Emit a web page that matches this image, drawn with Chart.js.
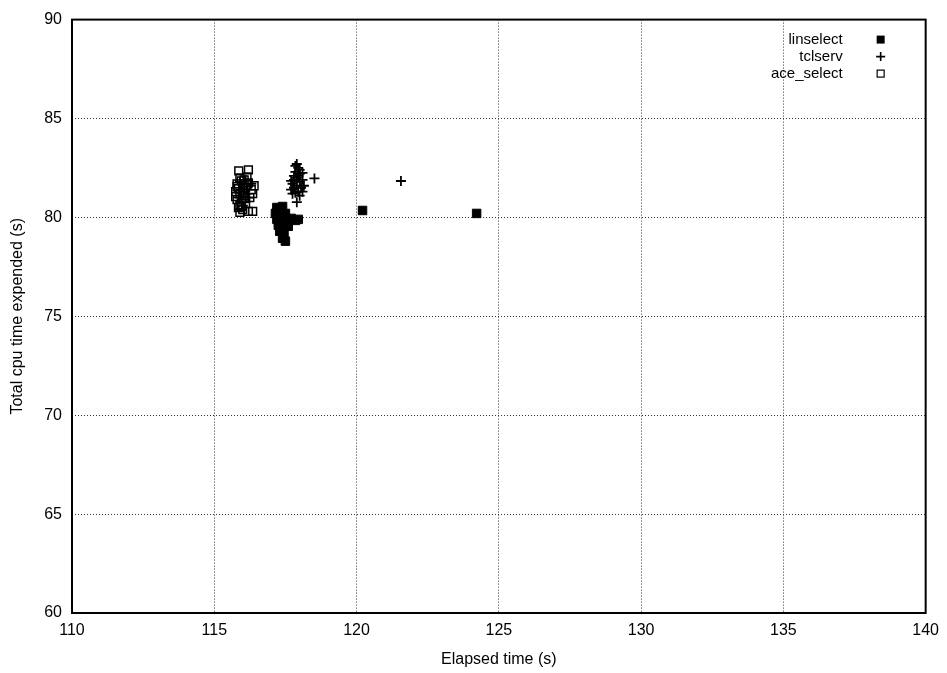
<!DOCTYPE html>
<html>
<head>
<meta charset="utf-8">
<script src="https://cdn.jsdelivr.net/npm/chart.js@4/dist/chart.umd.min.js"></script>
<style>
  body { margin: 0; background: #fff; }
  #wrap { width: 947px; height: 673px; }
</style>
</head>
<body>
<div id="wrap"><canvas id="myChart" width="947" height="673"></canvas></div>
<script>
const seriesNames = ["linselect", "tclserv", "ace_select"];

// linselect (filled squares)
const linX = [117.2, 117.4, 117.15, 117.35, 117.5, 117.2, 117.4, 117.55, 117.7, 117.85, 117.95, 117.25, 117.45, 117.6, 117.3, 117.45, 117.4, 117.5, 120.21, 124.22];
const linY = [80.5, 80.55, 80.2, 80.3, 80.2, 79.9, 80.0, 79.9, 79.95, 79.85, 79.9, 79.6, 79.6, 79.55, 79.3, 79.2, 78.95, 78.8, 80.35, 80.2];

// tclserv (plus signs)
const tclX = [117.9, 117.95, 117.85, 118.0, 117.9, 117.8, 118.0, 117.9, 117.8, 118.05, 117.95, 117.85, 118.1, 117.75, 118.1, 117.95, 117.85, 118.0, 117.8,
  117.7, 118.15, 117.75, 118.1, 117.7, 118.0, 118.52, 117.9, 121.56,
  115.9, 116.05, 116.2, 115.85, 116.0, 116.3, 116.1, 115.95];
const tclY = [82.7, 82.5, 82.3, 82.2, 82.0, 81.9, 81.8, 81.6, 81.5, 81.5, 81.3, 81.25, 81.3, 81.7, 81.9, 82.1, 82.6, 82.4, 82.1,
  81.4, 81.6, 81.2, 82.25, 81.85, 81.1, 81.97, 80.77, 81.84,
  81.8, 81.4, 81.0, 81.0, 80.6, 81.7, 81.9, 81.25];

// ace_select (open squares)
const aceX = [115.86, 116.2, 115.9, 116.05, 115.8, 116.0, 116.1, 115.75, 115.9, 116.05, 116.3, 116.4, 116.35, 115.8, 115.95, 116.1, 115.85, 116.0, 116.2, 115.9, 116.35,
  115.95, 116.15, 115.85, 116.0, 116.25, 115.75, 116.1, 115.9, 116.2, 115.8, 116.05, 115.95];
const aceY = [82.35, 82.4, 82.0, 81.9, 81.7, 81.6, 81.5, 81.3, 81.2, 81.1, 81.4, 81.6, 81.2, 80.9, 80.8, 80.7, 80.5, 80.4, 80.3, 80.25, 80.3,
  81.85, 82.05, 81.45, 81.35, 81.0, 81.05, 80.95, 80.6, 81.75, 81.55, 81.25, 80.55];

const xTicks = [110, 115, 120, 125, 130, 135, 140];
const yTicks = [60, 65, 70, 75, 80, 85, 90];

const FONT = "'Liberation Sans', Arial, Helvetica, sans-serif";

function pts(xs, ys) {
  return xs.map((x, i) => ({ x: x, y: ys[i] }));
}

// legend in the top right corner, text first then the marker (gnuplot style)
const gnuLegend = {
  id: "gnuLegend",
  afterDraw(chart) {
    const ctx = chart.ctx;
    const area = chart.chartArea;
    const textRight = area.right - 83;
    const markX = area.right - 45;
    ctx.save();
    // frame around the plot
    ctx.lineWidth = 2;
    ctx.strokeStyle = "#000";
    ctx.strokeRect(area.left, area.top, area.right - area.left, area.bottom - area.top);
    ctx.font = "15px " + FONT;
    ctx.textAlign = "right";
    ctx.textBaseline = "middle";
    chart.data.datasets.forEach((ds, i) => {
      const y = area.top + 20 + i * 17;
      ctx.fillStyle = "#000";
      ctx.fillText(ds.label, textRight, y);
      ctx.strokeStyle = "#000";
      ctx.lineWidth = 1.6;
      if (ds.pointStyle === "cross") {
        ctx.beginPath();
        ctx.moveTo(markX - 4.5, y);
        ctx.lineTo(markX + 4.5, y);
        ctx.moveTo(markX, y - 4.5);
        ctx.lineTo(markX, y + 4.5);
        ctx.stroke();
      } else if (ds.filled) {
        ctx.fillRect(markX - 4, y - 4, 8, 8);
      } else {
        ctx.lineWidth = 1.2;
        ctx.strokeRect(markX - 3.5, y - 3.5, 7, 7);
      }
    });
    ctx.restore();
  }
};

const ctx = document.getElementById("myChart").getContext("2d");

new Chart(ctx, {
  type: "scatter",
  plugins: [gnuLegend],
  data: {
    datasets: [
      {
        label: seriesNames[0],
        data: pts(linX, linY),
        pointStyle: "rect",
        pointRadius: 6,
        backgroundColor: "#000",
        borderColor: "#000",
        borderWidth: 1,
        filled: true
      },
      {
        label: seriesNames[1],
        data: pts(tclX, tclY),
        pointStyle: "cross",
        pointRadius: 5,
        backgroundColor: "#000",
        borderColor: "#000",
        borderWidth: 1.8
      },
      {
        label: seriesNames[2],
        data: pts(aceX, aceY),
        pointStyle: "rect",
        pointRadius: 5.5,
        backgroundColor: "rgba(0,0,0,0)",
        borderColor: "#000",
        borderWidth: 1.5
      }
    ]
  },
  options: {
    responsive: false,
    animation: false,
    layout: { padding: { top: 15, right: 19, left: 0, bottom: 0 } },
    plugins: {
      legend: { display: false },
      tooltip: { enabled: false }
    },
    scales: {
      x: {
        type: "linear",
        min: 110,
        max: 140,
        afterBuildTicks: (scale) => { scale.ticks = xTicks.map(v => ({ value: v })); },
        afterFit: (scale) => { scale.height = 60; },
        ticks: { color: "#000", font: { family: FONT, size: 16 }, padding: 8 },
        grid: { color: "#333", lineWidth: 1, drawTicks: false },
        border: { display: false, dash: [1, 2] },
        title: { display: true, text: "Elapsed time (s)", color: "#000", font: { family: FONT, size: 16 }, padding: { top: 4, bottom: 4 } }
      },
      y: {
        type: "linear",
        min: 60,
        max: 90,
        afterBuildTicks: (scale) => { scale.ticks = yTicks.map(v => ({ value: v })); },
        afterFit: (scale) => { scale.width = 72; },
        ticks: { color: "#000", font: { family: FONT, size: 16 }, padding: 10 },
        grid: { color: "#333", lineWidth: 1, drawTicks: false },
        border: { display: false, dash: [1, 2] },
        title: { display: true, text: "Total cpu time expended (s)", color: "#000", font: { family: FONT, size: 16 }, padding: { top: 8, bottom: 4 } }
      }
    }
  }
});
</script>
</body>
</html>
